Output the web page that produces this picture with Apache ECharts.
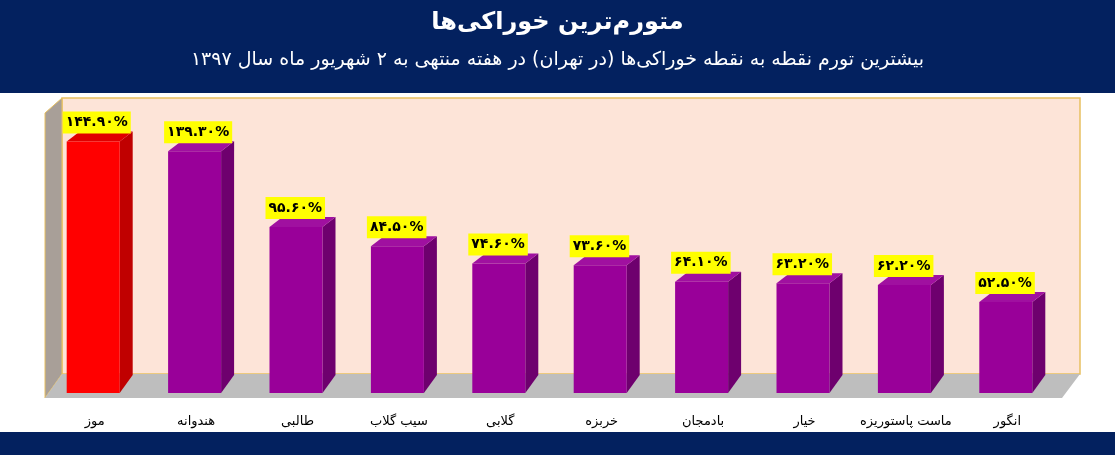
<!DOCTYPE html>
<html><head><meta charset="utf-8">
<script src="https://cdn.jsdelivr.net/npm/echarts@6/dist/echarts.min.js"></script>
<style>html,body{margin:0;padding:0;background:#fff}#main{width:1115px;height:455px}</style>
</head><body><div id="main"></div>
<script>
const categories = ['موز','هندوانه','طالبی','سیب گلاب','گلابی','خربزه','بادمجان','خیار','ماست پاستوریزه','انگور'];
const values = [144.9, 139.3, 95.6, 84.5, 74.6, 73.6, 64.1, 63.2, 62.2, 52.5];
const title = 'متورم‌ترین خوراکی‌ها';
const subtitle = 'بیشترین تورم نقطه به نقطه خوراکی‌ها (در تهران) در هفته منتهی به ۲ شهریور ماه سال ۱۳۹۷';

const fa = s => s.replace(/\d/g, d => '۰۱۲۳۴۵۶۷۸۹'[d]);
const font = '"DejaVu Sans", sans-serif';

const chart = echarts.init(document.getElementById('main'));
chart.setOption({
    animation: false,
    textStyle: { fontFamily: font },
    graphic: [
        { type: 'rect', shape: { x: 0, y: 0, width: 1115, height: 93 }, style: { fill: '#03215f' } },
        { type: 'rect', shape: { x: 0, y: 432, width: 1115, height: 23 }, style: { fill: '#03215f' } },
        { type: 'rect', shape: { x: 62, y: 98, width: 1018, height: 276 }, style: { fill: '#fde4d8', stroke: '#e8c060', lineWidth: 1.5 } },
        { type: 'polygon', shape: { points: [[45, 113], [62, 98], [62, 374], [45, 398]] }, style: { fill: '#a89f98', stroke: '#e8c060' } },
        { type: 'polygon', shape: { points: [[45, 398], [62, 374], [1080, 374], [1062, 398]] }, style: { fill: '#bebebe' } },
        { type: 'text', left: 'center', top: 11, style: { text: title, fill: '#fff', font: 'bold 24px ' + font } },
        { type: 'text', left: 'center', top: 51, style: { text: subtitle, fill: '#fff', font: '19px ' + font } }
    ],
    grid: { left: 44, right: 57, top: 98, bottom: 62 },
    xAxis: {
        type: 'category', data: categories,
        axisLine: { show: false }, axisTick: { show: false },
        axisLabel: { interval: 0, margin: 22, color: '#000', fontSize: 13, fontFamily: font }
    },
    yAxis: { type: 'value', min: 0, max: 170, show: false },
    series: [{
        type: 'custom',
        data: values.map((v, i) => [i, v]),
        renderItem: function (params, api) {
            const i = api.value(0);
            const top = api.coord([i, api.value(1)]);
            const base = api.coord([i, 0]);
            const c = top[0];
            const x0 = c - 28, x1 = c + 25, d = 13, h = 10;
            const red = i === 0;
            const front = red ? '#ff0000' : '#990099';
            const side = red ? '#c00000' : '#6e006e';
            const cap = red ? '#e00000' : '#a010a0';
            return {
                type: 'group',
                children: [
                    { type: 'polygon', shape: { points: [[x1, top[1]], [x1 + d, top[1] - h], [x1 + d, base[1] - h - 8], [x1, base[1]]] }, style: { fill: side } },
                    { type: 'polygon', shape: { points: [[x0, top[1]], [x0 + d, top[1] - h], [x1 + d, top[1] - h], [x1, top[1]]] }, style: { fill: cap } },
                    { type: 'rect', shape: { x: x0, y: top[1], width: x1 - x0, height: base[1] - top[1] }, style: { fill: front } },
                    { type: 'text', x: x0 - 4, y: top[1] - 30, style: {
                        text: fa(api.value(1).toFixed(2)) + '%', fill: '#000', font: 'bold 14px ' + font,
                        backgroundColor: '#ffff00', padding: [4, 3]
                    } }
                ]
            };
        }
    }]
});
</script></body></html>
